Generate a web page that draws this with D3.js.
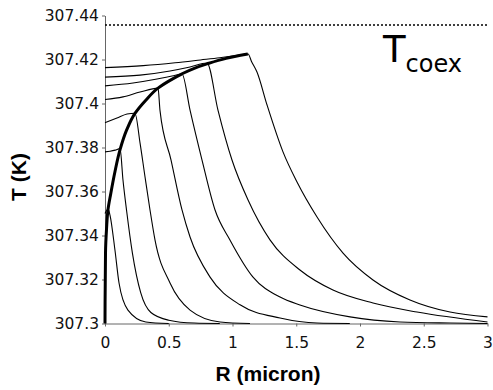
<!DOCTYPE html>
<html>
<head>
<meta charset="utf-8">
<script src="https://cdn.jsdelivr.net/npm/d3@7"></script>
<style>
  html, body { margin: 0; padding: 0; background: #fff; }
  svg { display: block; }
  .axis text { font-family: 'DejaVu Sans', sans-serif; font-size: 15.5px; fill: #111; }
  .axis path, .axis line { stroke: #666; }
</style>
</head>
<body>
<div id="chart"></div>
<script>
/* ── data: radius R (micron) vs temperature T (K) ───────────────── */
const xTicks = [0, 0.5, 1, 1.5, 2, 2.5, 3];
const yTicks = [307.3, 307.32, 307.34, 307.36, 307.38, 307.4, 307.42, 307.44];
const tCoex = 307.4357;

/* front trajectory (thick line) */
const envelope = [
  [0, 307.300], [0.004, 307.332], [0.012, 307.343], [0.024, 307.352],
  [0.045, 307.359], [0.078, 307.369], [0.118, 307.379], [0.17, 307.388],
  [0.235, 307.3955], [0.32, 307.4015], [0.416, 307.407], [0.51, 307.4105],
  [0.604, 307.4135], [0.70, 307.416], [0.80, 307.418], [0.95, 307.4205],
  [1.12, 307.4225]
];

/* temperature profiles at successive times */
const profile1 = [
  [0, 307.350], [0.024, 307.352], [0.039, 307.3493], [0.078, 307.3334],
  [0.11, 307.3184], [0.18, 307.3061], [0.32, 307.3007], [0.5, 307.300]
];
const profile2 = [
  [0, 307.378], [0.04, 307.3783], [0.08, 307.3788], [0.118, 307.3795],
  [0.141, 307.3652], [0.17, 307.351], [0.215, 307.332], [0.28, 307.314],
  [0.36, 307.305], [0.5, 307.3015], [0.7, 307.3002], [0.9, 307.300]
];
const profile3 = [
  [0, 307.3913], [0.094, 307.3934], [0.173, 307.3952], [0.235, 307.3956],
  [0.275, 307.382], [0.314, 307.3666], [0.353, 307.3516], [0.392, 307.338],
  [0.51, 307.3184], [0.667, 307.3061], [0.902, 307.3007], [1.137, 307.300]
];
const profile4 = [
  [0, 307.4018], [0.141, 307.403], [0.275, 307.4052], [0.416, 307.407],
  [0.431, 307.397], [0.518, 307.3743], [0.604, 307.3516], [0.667, 307.3393],
  [0.824, 307.3211], [1.059, 307.3085], [1.373, 307.3025], [1.663, 307.3002],
  [1.92, 307.300]
];
const profile5 = [
  [0, 307.408], [0.22, 307.4093], [0.408, 307.4111], [0.526, 307.4125],
  [0.604, 307.4134], [0.667, 307.397], [0.761, 307.3743], [0.863, 307.3516],
  [0.98, 307.338], [1.161, 307.3211], [1.373, 307.312], [1.529, 307.3084],
  [1.922, 307.303], [2.314, 307.3007], [2.706, 307.3002], [3.0, 307.300]
];
const profile6 = [
  [0, 307.412], [0.275, 307.4129], [0.51, 307.4148], [0.667, 307.4166],
  [0.8, 307.4184], [0.886, 307.397], [0.996, 307.3743], [1.122, 307.3561],
  [1.294, 307.338], [1.529, 307.3243], [1.788, 307.3152], [2.102, 307.3093],
  [2.447, 307.3052], [3.0, 307.3007]
];
const profile7 = [
  [0, 307.4163], [0.3, 307.4172], [0.55, 307.4185], [0.75, 307.4198],
  [0.9, 307.4208], [1.0, 307.4216], [1.122, 307.4225], [1.15, 307.419],
  [1.192, 307.4143], [1.271, 307.3993], [1.396, 307.378], [1.506, 307.3643],
  [1.663, 307.3484], [1.867, 307.332], [2.102, 307.3198], [2.392, 307.3107],
  [2.706, 307.3052], [3.0, 307.303]
];
const profiles = [profile1, profile2, profile3, profile4, profile5, profile6, profile7];

/* ── chart ───────────────────────────────────────────────────────── */
const W = 493, H = 390;
const svg = d3.select('#chart').append('svg')
  .attr('width', W).attr('height', H);

const x = d3.scaleLinear().domain([0, 3]).range([105, 487.5]);
const y = d3.scaleLinear().domain([307.3, 307.44]).range([323.5, 15.5]);

/* axes */
svg.append('g').attr('class', 'axis')
  .attr('transform', `translate(0,${y(307.3)})`)
  .call(d3.axisBottom(x).tickValues(xTicks).tickSize(3).tickSizeOuter(0)
    .tickPadding(10).tickFormat(d => String(d)));

svg.append('g').attr('class', 'axis')
  .attr('transform', `translate(${x(0)},0)`)
  .call(d3.axisLeft(y).tickValues(yTicks).tickSize(3).tickSizeOuter(0)
    .tickPadding(3).tickFormat(d => String(+d.toFixed(2))));

/* coexistence temperature */
svg.append('line')
  .attr('x1', x(0)).attr('x2', x(3))
  .attr('y1', y(tCoex)).attr('y2', y(tCoex))
  .attr('stroke', '#000').attr('stroke-width', 1.5)
  .attr('stroke-dasharray', '2,2');

/* profiles */
const line = d3.line()
  .x(d => x(d[0])).y(d => y(d[1]))
  .curve(d3.curveMonotoneX);

svg.selectAll('.profile')
  .data(profiles).join('path')
  .attr('class', 'profile')
  .attr('fill', 'none').attr('stroke', '#000').attr('stroke-width', 1.1)
  .attr('d', line);

/* front trajectory */
svg.append('path')
  .datum(envelope)
  .attr('fill', 'none').attr('stroke', '#000').attr('stroke-width', 3)
  .attr('stroke-linejoin', 'round')
  .attr('d', d3.line().x(d => x(d[0])).y(d => y(d[1])).curve(d3.curveMonotoneY));

/* labels — T with subscript in one text element */
const tLab = svg.append('text')
  .attr('x', 383).attr('y', 62)
  .attr('font-family', 'DejaVu Sans, sans-serif');
tLab.append('tspan').attr('font-size', 37).text('T');
tLab.append('tspan').attr('font-size', 24).attr('dy', 10).text('coex');

svg.append('text')
  .attr('x', 268).attr('y', 381)
  .attr('text-anchor', 'middle')
  .attr('font-family', 'Liberation Sans, Arial, sans-serif')
  .attr('font-weight', 'bold').attr('font-size', 21)
  .text('R (micron)');

svg.append('text')
  .attr('transform', 'translate(26,177) rotate(-90)')
  .attr('text-anchor', 'middle')
  .attr('font-family', 'Liberation Sans, Arial, sans-serif')
  .attr('font-weight', 'bold').attr('font-size', 21)
  .text('T (K)');
</script>
</body>
</html>
